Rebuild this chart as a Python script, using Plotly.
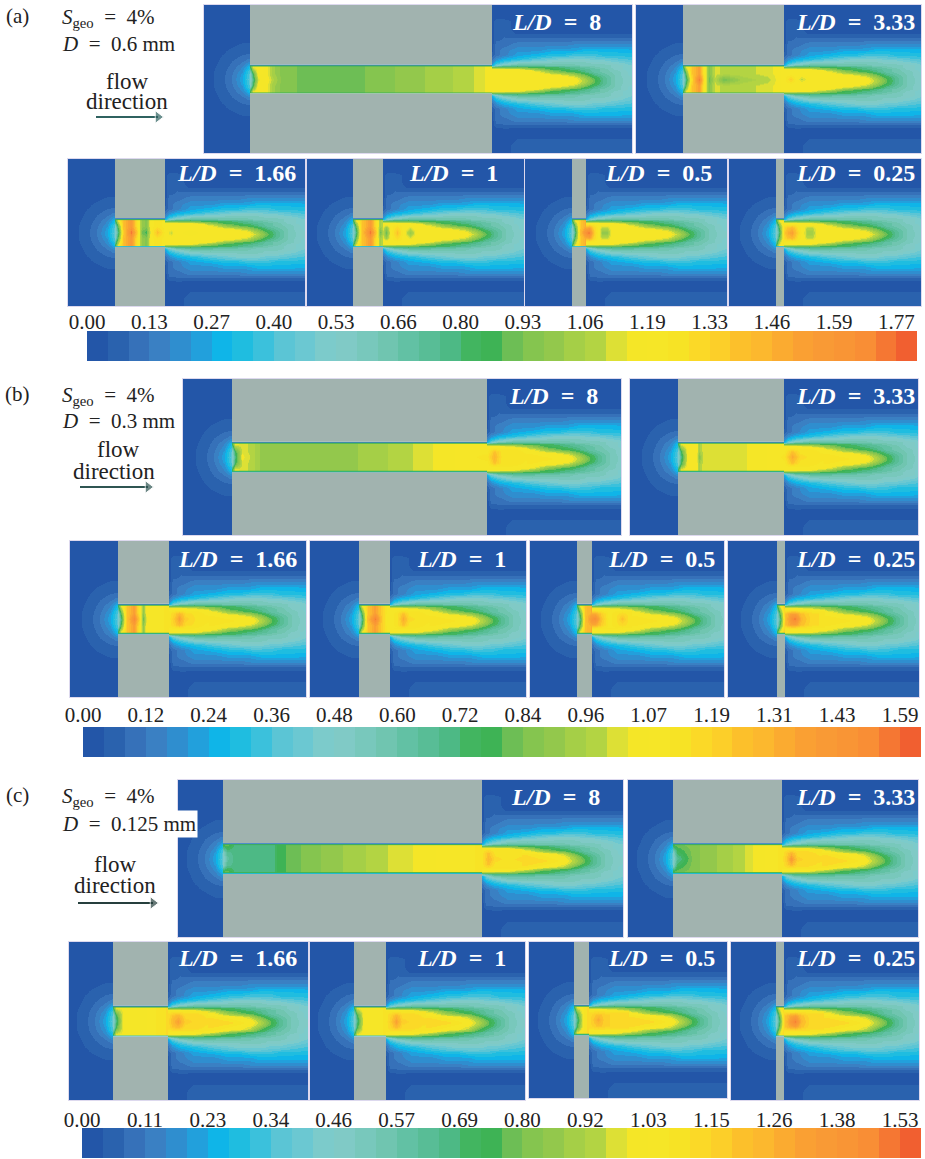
import numpy as np
import plotly.graph_objects as go

W, H = 925, 1159
SERIF = "Liberation Serif"

# ---------- colour bands ----------
BAND_COLORS = ["#2356A8", "#2A62AE", "#3671B9", "#3A80C3", "#2F8ECF", "#22A0DC", "#0FB5E8", "#1FBDE0",
               "#3BC1DC", "#5BC5D5", "#6BC8D2", "#7CCBCB", "#80CAC6", "#78C8BC", "#70C5B0", "#62C1A4",
               "#58BD96", "#4DB985", "#42B560", "#3EB355", "#6DBE55", "#85C54F", "#93C84C", "#A5CF47",
               "#B3D443", "#DDE035", "#F5E627", "#F6E627", "#F7E325", "#FBD927", "#FCCF29", "#FCC02B",
               "#FCB82E", "#FBAB30", "#FAA033", "#F99A35", "#F99535", "#F98E35", "#F57733", "#F15F30"]
BAND_IDS = list(range(40))

TICKS_A = ["0.00", "0.13", "0.27", "0.40", "0.53", "0.66", "0.80", "0.93", "1.06", "1.19", "1.33", "1.46", "1.59", "1.77"]
TICKS_B = ["0.00", "0.12", "0.24", "0.36", "0.48", "0.60", "0.72", "0.84", "0.96", "1.07", "1.19", "1.31", "1.43", "1.59"]
TICKS_C = ["0.00", "0.11", "0.23", "0.34", "0.46", "0.57", "0.69", "0.80", "0.92", "1.03", "1.15", "1.26", "1.38", "1.53"]
TICK_BANDS = [0, 3, 6, 9, 12, 15, 18, 21, 24, 27, 30, 33, 36, 39]

LD_LABELS = ["8", "3.33", "1.66", "1", "0.5", "0.25"]

# ---------- upstream field (band index), shared; rows from the axis outwards, mirrored ----------
UP_X = [-52, -42, -36, -30, -24, -18, -12, -8, -4, 0]
UP_Y_HALF = [0, 4, 8, 12, 18, 24, 30, 36, 42, 74]
UP_Z_HALF = [
    [0, 0, .55, 1, 1.6, 2.6, 4.0, 5.2, 7.5, 9.5],
    [0, 0, .55, 1, 1.6, 2.5, 3.9, 5.0, 7.3, 9.3],
    [0, 0, .5, 1, 1.5, 2.3, 3.4, 4.3, 6.5, 8.5],
    [0, 0, .4, .85, 1.3, 1.9, 2.8, 3.5, 5, 7],
    [0, 0, .2, .6, 1, 1.5, 1.9, 2.3, 2.8, 3.4],
    [0, 0, 0, .4, .7, 1, 1.3, 1.5, 1.6, 1.7],
    [0, 0, 0, 0, .4, .6, .85, 1, 1, 1],
    [0, 0, 0, 0, 0, .2, .4, .5, .55, .55],
    [0, 0, 0, 0, 0, 0, .1, .1, .1, .1],
    [0, 0, 0, 0, 0, 0, 0, 0, 0, 0],
]

# ---------- downstream field (band index), shared outside the jet core ----------
PL_X = [0, 4, 12, 25, 45, 60, 72, 82, 92, 102, 112, 125, 146]
PL_Y = [-74, -60, -56, -48, -44, -38, -32, -27, -22, -18, -15, -13, -11, -9, -6, -3, 0,
        3, 6, 9, 11, 13, 15, 18, 22, 27, 32, 38, 44, 48, 56, 60, 74]
PL_TOP = [
    [0, 0, 0, 0, 0, 0, 0, 0, 0, 0, 0, 0, 0],
    [0, 1, 1, 0, 0, 0, 0, 0, 0, 0, 0, 0, 0],
    [0, 1, 1, 0, 0, 0, 0, 0, 0, 0, 0, 0, 0],
    [0, 1, 1, .4, .4, .4, .4, .4, .4, .4, .4, .4, .4],
    [0, 1, 1.6, 1.6, 1.6, 1.6, 1.6, 1.6, 1.6, 1.6, 1.6, 1.6, 1.6],
    [0, 2, 2, 3, 3, 3, 3, 3.5, 3.5, 3.5, 3.5, 3.5, 3.5],
    [0, 2, 3, 4, 4, 5, 5, 5, 6, 6, 6, 6, 5.5],
    [1, 2, 3, 5, 6, 7, 7, 8, 8, 8, 7, 7, 7],
    [2, 4, 6, 7, 9, 10, 11, 11, 11, 10, 10, 9, 8],
    [4, 7, 9, 12, 13, 13, 13, 13, 13, 12, 12, 11, 9],
    [6, 10, 14, 15, 15, 14, 14, 14, 13, 13, 13, 12, 10],
    [20, 20, 20, 20, 19, 18, 17, 16, 15, 14, 13, 12, 10],
    [27, 27, 27, 26, 22, 19, 18, 17, 16, 15, 14, 12, 10],
    [27, 27, 27, 27, 26, 22, 20, 19, 17, 15, 14, 13, 10],
]
PL_BOTTOM = [
    [27, 27, 27, 27, 26, 22, 20, 19, 17, 15, 14, 13, 10],
    [27, 27, 27, 26, 22, 19, 18, 17, 16, 15, 14, 12, 10],
    [20, 20, 20, 20, 19, 18, 17, 16, 15, 14, 13, 12, 10],
    [6, 10, 14, 15, 15, 14, 14, 14, 13, 13, 13, 12, 10],
    [4, 7, 9, 12, 13, 13, 13, 13, 13, 12, 12, 11, 9],
    [2, 4, 6, 7, 9, 10, 11, 11, 11, 10, 10, 9, 8],
    [1, 2, 3, 5, 6, 7, 7, 8, 8, 8, 7, 7, 7],
    [0, 2, 3, 4, 4, 5, 5, 5, 6, 6, 6, 6, 5.5],
    [0, 2, 2, 3, 3, 3, 3, 3.5, 3.5, 3.5, 3.5, 3.5, 3.5],
    [0, 1, 1.4, 1.2, 1.2, 1.2, 1.2, 1.2, 1.2, 1.2, 1.2, 1.2, 1.2],
    [0, 0, 0, 0, 0, 0, 0, 0, 0, 0, 0, 0, 0],
    [0, 0, 0, 0, 0, 0, 0, 0, 0, 0, 0, 0, 0],
    [0, 0, 0, 1, 1, 1, 1, 1, 1, 1, 1, 1, 1],
]
# rows at |y| = 6, 3 and 0, different in each group
PL_CORE = {
    "a": ([27, 27, 27, 27, 27, 26, 25, 23, 20, 17, 15, 13, 10],
          [27, 27, 27, 27, 27, 27, 27, 26, 23, 19, 16, 13, 11],
          [27, 27, 27, 27, 27, 27, 27, 27, 24, 20, 16, 13, 11]),
    "b": ([27, 28, 28, 28, 27, 26, 25, 23, 20, 17, 15, 13, 10],
          [28, 28, 28, 28, 28, 27, 27, 26, 23, 19, 16, 13, 11],
          [28, 28, 28, 28, 28, 28, 27, 27, 24, 20, 16, 13, 11]),
    "c": ([28, 29, 29, 29, 28, 27, 26, 24, 20, 17, 15, 13, 10],
          [29, 29, 29, 29, 29, 28, 27, 26, 23, 19, 16, 13, 11],
          [29, 29, 29, 29, 29, 29, 28, 27, 24, 20, 16, 13, 11]),
}
EXIT_RIM = {"a": 27, "b": 27, "c": 28}

# ---------- jet core per panel: stations from the hole inlet, centreline band, mid-radius band ----------
CORE_A = [
    ([0, 3, 8, 16, 22, 32, 60, 100, 130, 160, 190, 215, 232, 242, 250, 270, 282],
     [11, 17, 25, 27, 24, 21, 20, 20, 21, 22, 23, 24, 25, 27, 27, 27, 27],
     [12, 19, 27, 26, 23, 21, 20, 20, 21, 22, 23, 24, 25, 27, 27, 27, 27]),
    ([0, 3, 8, 16, 21, 26, 32, 40, 60, 85, 95, 101, 108, 118, 128, 141],
     [11, 17, 28, 38, 28, 20, 24, 20, 23, 24, 26, 27, 30, 24, 27, 27],
     [12, 20, 30, 34, 27, 21, 25, 24, 24, 25, 26, 27, 27, 27, 27, 27]),
    ([0, 3, 8, 16, 22, 27, 31, 36, 42, 50, 56, 60, 75, 90],
     [11, 17, 30, 38, 30, 20, 19, 27, 31, 27, 24, 27, 26, 27],
     [12, 20, 31, 35, 28, 22, 21, 27, 28, 27, 27, 27, 27, 27]),
    ([0, 3, 8, 17, 23, 27, 30, 33, 38, 44, 50, 57, 64, 70],
     [11, 17, 30, 38, 30, 20, 24, 20, 27, 31, 27, 22, 27, 27],
     [12, 20, 30, 35, 28, 23, 25, 22, 27, 29, 27, 25, 27, 27]),
    ([0, 3, 8, 14, 17, 22, 26, 30, 35, 40, 54],
     [11, 17, 31, 37, 38, 30, 27, 22, 22, 27, 27],
     [12, 20, 30, 33, 34, 29, 27, 24, 24, 27, 27]),
    ([0, 3, 8, 12, 16, 22, 26, 31, 36, 42, 48],
     [11, 17, 30, 33, 34, 29, 27, 23, 23, 27, 27],
     [12, 20, 29, 31, 32, 28, 27, 24, 24, 27, 27]),
]
CORE_B = [
    ([0, 3, 10, 20, 30, 110, 142, 170, 192, 210, 235, 255, 262, 270, 285, 295],
     [11, 17, 26, 24, 22, 22, 23, 24, 25, 26, 27, 28, 32, 28, 28, 28],
     [12, 19, 25, 24, 22, 22, 23, 24, 25, 26, 27, 27, 31, 28, 28, 27]),
    ([0, 3, 10, 18, 21, 25, 60, 78, 100, 106, 114, 122, 135, 146],
     [11, 17, 27, 27, 21, 25, 25, 26, 27, 28, 33, 29, 28, 28],
     [12, 19, 27, 27, 23, 25, 25, 26, 27, 27, 31, 28, 28, 27]),
    ([0, 3, 8, 16, 21, 25, 29, 40, 51, 57, 61, 67, 80, 91],
     [11, 17, 30, 37, 30, 20, 27, 27, 28, 31, 34, 30, 28, 28],
     [12, 20, 30, 34, 28, 22, 27, 27, 28, 30, 32, 29, 28, 27]),
    ([0, 3, 8, 16, 22, 28, 31, 38, 44, 50, 60, 71],
     [11, 17, 31, 38, 31, 26, 27, 28, 33, 29, 28, 28],
     [12, 20, 30, 34, 30, 27, 27, 28, 31, 28, 28, 27]),
    ([0, 3, 8, 15, 18, 24, 32, 38, 45, 52, 55],
     [11, 17, 31, 36, 37, 31, 27, 28, 31, 28, 28],
     [12, 20, 31, 33, 33, 30, 27, 28, 29, 28, 28]),
    ([0, 3, 8, 14, 18, 24, 34, 48],
     [11, 17, 31, 36, 38, 32, 29, 28],
     [12, 20, 31, 34, 34, 31, 29, 28]),
]
CORE_C = [
    ([0, 4, 12, 50, 55, 85, 110, 130, 155, 175, 205, 220, 245, 259, 265, 272, 285, 299],
     [11, 15, 17, 17, 19, 21, 22, 23, 24, 25, 26, 27, 27, 28, 32, 29, 28, 29],
     [12, 16, 17, 17, 19, 21, 22, 23, 24, 25, 26, 27, 27, 28, 31, 28, 28, 28]),
    ([0, 4, 20, 34, 53, 67, 84, 100, 109, 114, 118, 124, 135, 149],
     [11, 16, 21, 22, 23, 24, 26, 27, 28, 31, 35, 30, 29, 29],
     [12, 18, 21, 22, 23, 24, 26, 27, 28, 30, 32, 29, 29, 28]),
    ([0, 3, 10, 32, 36, 50, 55, 60, 65, 72, 85, 95],
     [11, 17, 26, 26, 27, 28, 29, 32, 34, 30, 29, 29],
     [12, 19, 26, 26, 27, 28, 29, 31, 32, 29, 29, 28]),
    ([0, 3, 10, 25, 32, 38, 42, 48, 60, 72],
     [11, 17, 27, 27, 28, 31, 34, 30, 29, 29],
     [12, 19, 27, 27, 28, 30, 32, 29, 29, 28]),
    ([0, 3, 10, 15, 20, 24, 30, 40, 55],
     [11, 17, 28, 29, 31, 33, 30, 29, 29],
     [12, 19, 28, 29, 30, 31, 30, 29, 29]),
    ([0, 3, 8, 14, 19, 25, 34, 48],
     [11, 17, 30, 35, 38, 32, 29, 29],
     [12, 20, 30, 33, 34, 31, 29, 29]),
]
CORES = {"a": CORE_A, "b": CORE_B, "c": CORE_C}

# ---------- page layout in pixels (not data) ----------
# panel box x0, x1, y0, y1, wall x0, wall x1
PANELS = {
    "a": [(204, 632, 5, 153, 250, 492), (636, 921, 5, 153, 683, 784),
          (68, 305, 159, 306, 115, 165), (307, 524, 159, 306, 353, 383),
          (525, 727, 159, 306, 572, 586), (729, 921, 159, 306, 776, 784)],
    "b": [(183, 621, 379, 535, 232, 487), (630, 918, 379, 535, 678, 784),
          (70, 306, 541, 697, 118, 169), (310, 526, 541, 697, 359, 390),
          (530, 724, 541, 697, 577, 592), (728, 919, 541, 697, 777, 785)],
    "c": [(178, 623, 780, 937, 223, 482), (628, 918, 780, 937, 673, 782),
          (69, 308, 942, 1100, 113, 168), (310, 525, 942, 1100, 354, 386),
          (529, 727, 942, 1098, 574, 589), (731, 919, 942, 1100, 776, 784)],
}
LABEL_POS = {
    "a": [(556, 22), (855, 22), (236, 173), (453, 173), (658, 173), (855, 173)],
    "b": [(553, 396), (855, 396), (238, 559), (461, 559), (661, 559), (855, 559)],
    "c": [(555, 797), (855, 797), (238, 958), (461, 958), (661, 958), (855, 958)],
}
BARS = {"a": (87, 917, 331, 361, TICKS_A, -3), "b": (83, 921, 727, 757, TICKS_B, 0), "c": (82, 921, 1128, 1158, TICKS_C, -4)}
SIDE_TEXT = {
    "a": dict(tag="(a)", y=16, dia="0.6", dy=44, flow=(127, 81), dirn=(127, 101), arrow=(96, 163, 117), col="#2F6260"),
    "b": dict(tag="(b)", y=394, dia="0.3", dy=421, flow=(119, 450), dirn=(114, 471), arrow=(80, 153, 487), col="#2F5552"),
    "c": dict(tag="(c)", y=795, dia="0.125", dy=824, flow=(115, 864), dirn=(115, 885), arrow=(78, 158, 903), col="#263F3D"),
}
HALF_HOLE = 14.5
WALL_GREY = "#A1B3AF"
GAP = "\u2002"

scale = []
for i, c in enumerate(BAND_COLORS):
    scale += [[i / 40, c], [(i + 1) / 40, c]]


def hm(x, y, z, k):
    x = np.asarray(x, float)
    y = np.asarray(y, float)
    z = np.asarray(z, float)
    # tiny end cells keep the picture inside the stated x and y limits
    x = np.r_[x[0], x[0] + .01, x[1:-1], x[-1] - .01, x[-1]]
    y = np.r_[y[0], y[0] + .01, y[1:-1], y[-1] - .01, y[-1]]
    z = np.c_[z[:, 0], z, z[:, -1]]
    z = np.r_[z[:1], z, z[-1:]]
    return go.Heatmap(x=x, y=y, z=z, xaxis=f"x{k}", yaxis=f"y{k}", zmin=-.5, zmax=39.5, colorscale=scale,
                      zsmooth="best", showscale=False, hoverinfo="skip")


fig = go.Figure()
axes = {}
shapes = []
notes = []


def note(x, y, text, size=21, color="#222", anchor="center", **kw):
    notes.append(dict(x=x / W, y=1 - y / H, xref="paper", yref="paper", text=text, showarrow=False, xanchor=anchor,
                      yanchor="middle", font=dict(family=SERIF, size=size, color=color), **kw))


up_y = [-v for v in UP_Y_HALF[:0:-1]] + UP_Y_HALF
up_z = UP_Z_HALF[:0:-1] + UP_Z_HALF

k = 0
for grp in "abc":
    r6, r3, r0 = PL_CORE[grp]
    plume = np.array(PL_TOP + [r6, r3, r0, r3, r6] + PL_BOTTOM, float)
    for i, (x0, x1, y0, y1, w0, w1) in enumerate(PANELS[grp]):
        k += 1
        L = w1 - w0
        st, ctr, mid = [np.array(v, float) for v in CORES[grp][i]]

        fig.add_trace(hm(np.array(PL_X) + L, PL_Y, plume, k))
        fig.add_trace(hm(UP_X, up_y, up_z, k))

        keep = st <= L
        xs, c, m = st[keep], ctr[keep], mid[keep]
        edge = m.copy()
        edge[0] = 19
        edge[1] = 26 if grp != "c" or i > 1 else 20
        green = np.full_like(c, 19.0)
        rim = np.full_like(c, 7.0)
        blue = np.full_like(c, 3.0)
        fig.add_trace(hm(xs, [-HALF_HOLE, -14, -13.2, -12.2, -6, 0, 6, 12.2, 13.2, 14, HALF_HOLE],
                         [blue, rim, green, edge, m, c, m, edge, green, rim, blue], k))

        keep = (st >= L) & (st <= L + 42)
        xs, c, m = st[keep], ctr[keep], mid[keep]
        outer = np.full_like(c, float(EXIT_RIM[grp]))
        fig.add_trace(hm(xs, [-9, -5, 0, 5, 9], [outer, m, c, m, outer], k))

        axes[f"xaxis{k}"] = dict(domain=[x0 / W, x1 / W], range=[-(w0 - x0), x1 - w0], showticklabels=False,
                                 ticks="", showgrid=False, zeroline=False, showline=True, mirror=True,
                                 linecolor="#DDD9EE", linewidth=1, anchor=f"y{k}", fixedrange=True)
        axes[f"yaxis{k}"] = dict(domain=[1 - y1 / H, 1 - y0 / H], range=[74, -74], showticklabels=False, ticks="",
                                 showgrid=False, zeroline=False, showline=True, mirror=True,
                                 linecolor="#DDD9EE", linewidth=1, anchor=f"x{k}", fixedrange=True)
        for a, b in ((-74, -HALF_HOLE), (HALF_HOLE, 74)):
            shapes.append(dict(type="rect", xref=f"x{k}", yref=f"y{k}", x0=0, x1=L, y0=a, y1=b, fillcolor=WALL_GREY,
                               line_width=0, layer="above"))
        lx, ly = LABEL_POS[grp][i]
        note(lx, ly, f"<b><i>L/D</i>{GAP}={GAP}{LD_LABELS[i]}</b>", size=24, color="white")

    # colour bar
    k += 1
    bx0, bx1, by0, by1, labels, standoff = BARS[grp]
    fig.add_trace(go.Heatmap(x=[b + .5 for b in BAND_IDS], y=[0], z=[BAND_IDS], xaxis=f"x{k}", yaxis=f"y{k}", zmin=-.5,
                             zmax=39.5, colorscale=scale, showscale=False, hoverinfo="skip"))
    axes[f"xaxis{k}"] = dict(domain=[bx0 / W, bx1 / W], range=[0, 40], side="top", tickmode="array", tickvals=TICK_BANDS,
                             ticktext=labels, ticks="", ticklabelstandoff=standoff,
                             tickfont=dict(family=SERIF, size=21, color="#222"), showgrid=False, zeroline=False,
                             showline=False, anchor=f"y{k}", fixedrange=True)
    axes[f"yaxis{k}"] = dict(domain=[1 - by1 / H, 1 - by0 / H], range=[-.5, .5], showticklabels=False, ticks="",
                             showgrid=False, zeroline=False, anchor=f"x{k}", fixedrange=True)

    # side text
    s = SIDE_TEXT[grp]
    note(17, s["y"], s["tag"], anchor="center")
    note(60, s["y"] + 2, f"<i>S</i><sub>geo</sub>{GAP}={GAP}4%", anchor="left")
    note(60, s["dy"], f"<i>D</i>{GAP}={GAP}{s['dia']} mm", anchor="left", bgcolor="white" if grp == "c" else None)
    note(s["flow"][0], s["flow"][1], "flow", size=23)
    note(s["dirn"][0], s["dirn"][1], "direction", size=23)

# flow arrows on a page-sized overlay axis
k += 1
for grp in "abc":
    ax0, ax1, ay = SIDE_TEXT[grp]["arrow"]
    col = SIDE_TEXT[grp]["col"]
    fig.add_trace(go.Scatter(x=[ax0, ax1 - 5], y=[ay, ay], mode="lines+markers", xaxis=f"x{k}", yaxis=f"y{k}",
                             line=dict(color=col, width=2), hoverinfo="skip",
                             marker=dict(symbol="triangle-right", size=[0, 11], color=col)))
axes[f"xaxis{k}"] = dict(domain=[0, 1], range=[0, W], visible=False, anchor=f"y{k}", fixedrange=True)
axes[f"yaxis{k}"] = dict(domain=[0, 1], range=[H, 0], visible=False, anchor=f"x{k}", fixedrange=True)

fig.update_layout(width=W, height=H, margin=dict(l=0, r=0, t=0, b=0, autoexpand=False), paper_bgcolor="white",
                  plot_bgcolor="rgba(0,0,0,0)", showlegend=False, shapes=shapes, annotations=notes, **axes)
fig.write_html("out.html", config=dict(displayModeBar=False),
               post_script="document.body.style.margin='0';document.body.style.overflow='hidden';")
